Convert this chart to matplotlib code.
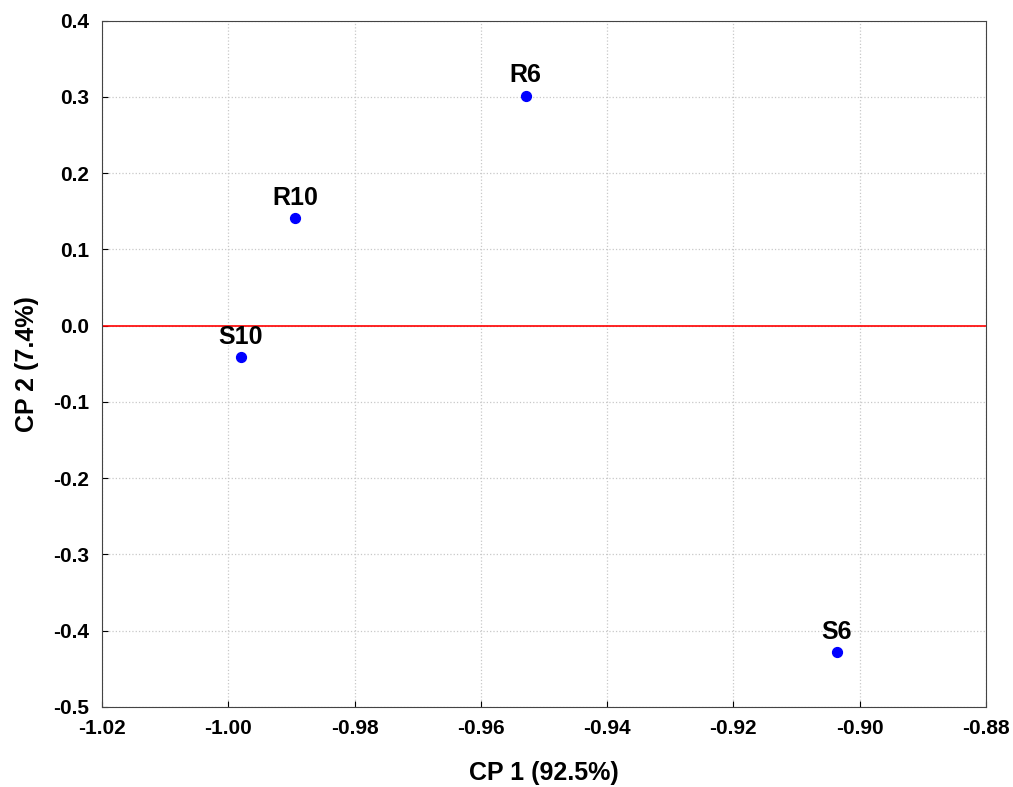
import matplotlib
matplotlib.use('Agg')
import matplotlib.pyplot as plt

plt.rcParams['font.family'] = ['Liberation Sans', 'DejaVu Sans']
plt.rcParams['font.weight'] = 'bold'

names = ['R6', 'R10', 'S10', 'S6']
cp1 = [-0.9529, -0.9894, -0.9980, -0.9036]
cp2 = [0.3016, 0.1408, -0.0416, -0.4280]

xticks = [-1.02, -1.00, -0.98, -0.96, -0.94, -0.92, -0.90, -0.88]
yticks = [0.4, 0.3, 0.2, 0.1, 0.0, -0.1, -0.2, -0.3, -0.4, -0.5]

fig = plt.figure(figsize=(10.13, 7.87), dpi=100)
ax = fig.add_axes([0.1007, 0.1017, 0.8726, 0.872])

ax.scatter(cp1, cp2, s=50, color='#0000ff', zorder=3)
for n, x, y in zip(names, cp1, cp2):
    ax.annotate(n, (x, y), xytext=(0, 6), textcoords='offset points',
                ha='center', va='bottom', fontsize=18, fontweight='bold')

ax.axhline(0, color='#ff0000', lw=1.2, zorder=2)

ax.set_xlim(-1.02, -0.88)
ax.set_ylim(-0.5, 0.4)
ax.set_xticks(xticks)
ax.set_yticks(yticks)
ax.set_xticklabels([f'{t:.2f}' for t in xticks])
ax.set_yticklabels([f'{t:.1f}' for t in yticks])
ax.grid(True, color='#c8c8c8', ls=':', lw=0.9)
ax.tick_params(direction='in', length=4, labelsize=15, pad=9)
for s in ax.spines.values():
    s.set_color('#444444')

ax.set_xlabel('CP 1 (92.5%)', fontsize=18, fontweight='bold', labelpad=16)
ax.set_ylabel('CP 2 (7.4%)', fontsize=18, fontweight='bold', labelpad=10)

fig.savefig('out.png', dpi=100)
